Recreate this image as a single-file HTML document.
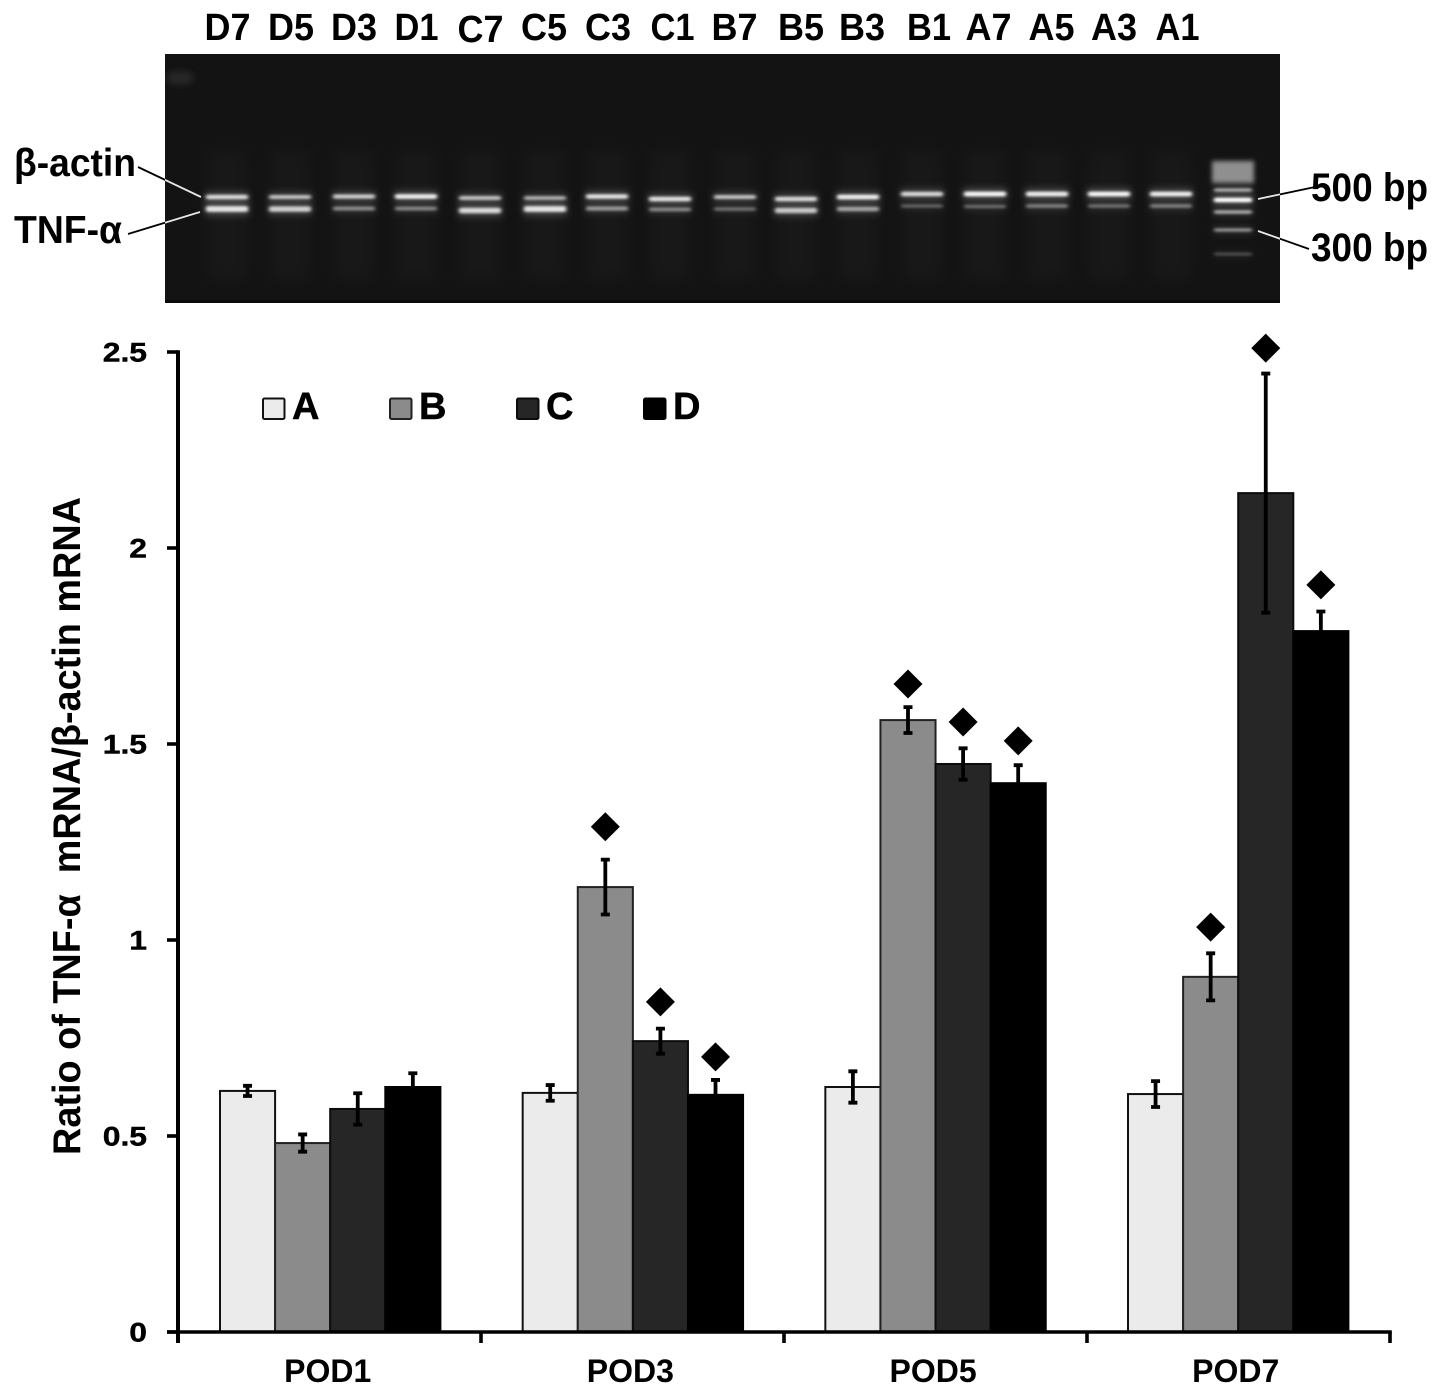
<!DOCTYPE html>
<html lang="en">
<head>
<meta charset="utf-8">
<title>TNF-α mRNA ratio chart</title>
<style>
html,body{margin:0;padding:0;background:#fff;}
svg{display:block;font-family:"Liberation Sans",sans-serif;font-weight:bold;filter:blur(0.35px);}
</style>
</head>
<body>
<svg id="figure" xmlns="http://www.w3.org/2000/svg" width="1441" height="1396" viewBox="0 0 1441 1396">
  <defs>
    <filter id="blurBand" x="-30%" y="-300%" width="160%" height="700%"><feGaussianBlur stdDeviation="1.8 1.3"/></filter>
    <filter id="blurGlow" x="-40%" y="-300%" width="180%" height="700%"><feGaussianBlur stdDeviation="3.5 4"/></filter>
    <filter id="blurBlob" x="-30%" y="-50%" width="160%" height="200%"><feGaussianBlur stdDeviation="2.5"/></filter>
    <filter id="blurSmear" x="-60%" y="-30%" width="220%" height="160%"><feGaussianBlur stdDeviation="8"/></filter>
    <clipPath id="gelClip"><rect x="165" y="54" width="1115" height="249"/></clipPath>
  </defs>
  <g id="gel" clip-path="url(#gelClip)">
    <rect x="165" y="54" width="1115" height="249" fill="#131313"/>
    <rect x="165" y="300" width="1115" height="3" fill="#0a0a0a"/>
    <ellipse cx="180" cy="78" rx="14" ry="6" fill="#2c2c2c" filter="url(#blurGlow)"/>
  </g>
  <g id="gelLabels"></g>
  <g>
    <text x="14" y="176" font-size="39" textLength="122" lengthAdjust="spacingAndGlyphs">β-actin</text>
    <text x="14" y="243" font-size="39" textLength="108" lengthAdjust="spacingAndGlyphs">TNF-α</text>
    <text x="1311" y="201" font-size="40" textLength="117" lengthAdjust="spacingAndGlyphs">500 bp</text>
    <text x="1311" y="261" font-size="40" textLength="117" lengthAdjust="spacingAndGlyphs">300 bp</text>
    <line x1="138" y1="167" x2="201" y2="197" stroke="#000" stroke-width="1.8"/>
    <line x1="128" y1="234" x2="200" y2="212" stroke="#000" stroke-width="1.8"/>
    <line x1="1258" y1="199" x2="1315" y2="187" stroke="#000" stroke-width="1.8"/>
    <line x1="1258" y1="231" x2="1309" y2="249" stroke="#000" stroke-width="1.8"/>
    <g clip-path="url(#gelClip)" stroke="#e8e8e8" stroke-width="1.8">
      <line x1="138" y1="167" x2="201" y2="197"/>
      <line x1="128" y1="234" x2="200" y2="212"/>
      <line x1="1258" y1="199" x2="1315" y2="187"/>
      <line x1="1258" y1="231" x2="1309" y2="249"/>
    </g>
  </g>
  <g id="bars"></g>
  <g id="errors"></g>
  <g id="markers"></g>
  <g id="axes"></g>
  <text transform="translate(80,1155) rotate(-90)" font-size="39" textLength="658" lengthAdjust="spacingAndGlyphs" xml:space="preserve">Ratio of TNF-α  mRNA/β-actin mRNA</text>
  <g id="legend"></g>
</svg>
<script>
// Chart data
const categories = ['POD1', 'POD3', 'POD5', 'POD7'];
const seriesNames = ['A', 'B', 'C', 'D'];
const seriesA = [0.615, 0.610, 0.625, 0.607];
const seriesB = [0.482, 1.135, 1.561, 0.906];
const seriesC = [0.569, 0.742, 1.449, 2.140];
const seriesD = [0.625, 0.605, 1.400, 1.788];
const errorA = [0.013, 0.020, 0.040, 0.033];
const errorB = [0.022, 0.070, 0.033, 0.060];
const errorC = [0.040, 0.032, 0.040, 0.305];
const errorD = [0.035, 0.038, 0.046, 0.050];
const markerB = [null, 1.289, 1.653, 1.033];
const markerC = [null, 0.842, 1.556, 2.510];
const markerD = [null, 0.702, 1.508, 1.906];
const yTickValues = [0, 0.5, 1, 1.5, 2, 2.5];
const yTickLabels = ['0', '0.5', '1', '1.5', '2', '2.5'];

// Gel data: lane name plus relative band brightness
const laneNames = ['D7','D5','D3','D1','C7','C5','C3','C1','B7','B5','B3','B1','A7','A5','A3','A1'];
const actinBrightness = [0.8,0.7,0.75,0.9,0.7,0.62,0.85,0.85,0.7,0.8,0.9,0.8,0.95,0.9,0.95,0.9];
const tnfBrightness = [0.85,0.75,0.45,0.42,0.8,0.85,0.5,0.42,0.35,0.72,0.55,0.3,0.32,0.4,0.35,0.4];

// Layout helpers
const NS = 'http://www.w3.org/2000/svg';
const plotLeft = 178, plotBottom = 1332, unitPx = 392, tickStep = 303, barGroupStart = 220, barGroupStep = 302.67, barW = 55.1;
const fills = ['#ebebeb', '#8b8b8b', '#262626', '#000000'];
const strokes = ['#111', '#222', '#0c0c0c', '#000'];
const seriesValues = [seriesA, seriesB, seriesC, seriesD];
const seriesErrors = [errorA, errorB, errorC, errorD];
const seriesMarkers = [null, markerB, markerC, markerD];
const yScale = v => plotBottom - v * unitPx;
const groupX = g => barGroupStart + g * barGroupStep;
const barX = (g, s) => groupX(g) + s * barW;
function make(tag, attrs, parent) {
  const el = document.createElementNS(NS, tag);
  for (const k in attrs) el.setAttribute(k, attrs[k]);
  parent.appendChild(el);
  return el;
}

// Bars, error bars, markers
const barsG = document.getElementById('bars');
const errG = document.getElementById('errors');
const markG = document.getElementById('markers');
categories.forEach((cat, g) => {
  seriesNames.forEach((name, s) => {
    const v = seriesValues[s][g];
    const x = barX(g, s);
    const top = yScale(v);
    const bar = make('rect', {x: x, y: top, width: barW, height: plotBottom - top, fill: fills[s], stroke: strokes[s], 'stroke-width': 2}, barsG);
    
    
    const cx = x + barW / 2;
    const e = seriesErrors[s][g];
    const hi = yScale(v + e), lo = yScale(v - e);
    const eb = make('path', {d: 'M' + cx + ' ' + hi + 'V' + lo + 'M' + (cx - 4.5) + ' ' + hi + 'H' + (cx + 4.5) + 'M' + (cx - 4.5) + ' ' + lo + 'H' + (cx + 4.5), fill: 'none', stroke: '#000', 'stroke-width': 3.8}, errG);
    
    
    const mArr = seriesMarkers[s];
    if (mArr && mArr[g] !== null) {
      const my = yScale(mArr[g]);
      const d = make('path', {d: 'M' + cx + ' ' + (my - 14.5) + 'L' + (cx + 14.5) + ' ' + my + 'L' + cx + ' ' + (my + 14.5) + 'L' + (cx - 14.5) + ' ' + my + 'Z', fill: '#000'}, markG);
      
      
    }
  });
});

// Axes
const axesG = document.getElementById('axes');
const yAxis = make('line', {x1: plotLeft, x2: plotLeft, y1: yScale(2.5) - 1.8, y2: plotBottom + 11, stroke: '#000', 'stroke-width': 4}, axesG);


const xAxis = make('line', {x1: 167, x2: plotLeft + tickStep * categories.length + 1.8, y1: plotBottom, y2: plotBottom, stroke: '#000', 'stroke-width': 3.6}, axesG);


yTickValues.forEach((v, i) => {
  const y = yScale(v);
  const t = make('line', {x1: 167, x2: plotLeft, y1: y, y2: y, stroke: '#000', 'stroke-width': 3.6}, axesG);
  
  
  const lab = make('text', {transform: 'translate(147,' + (y + 9.5) + ') scale(1.18,1)', 'text-anchor': 'end', 'font-size': 27, stroke: '#000', 'stroke-width': 0.4}, axesG);
  lab.textContent = yTickLabels[i];
  
  
});
for (let g = 0; g <= categories.length; g++) {
  const x = plotLeft + g * tickStep;
  const t = make('line', {x1: x, x2: x, y1: plotBottom, y2: plotBottom + 11, stroke: '#000', 'stroke-width': 3.6}, axesG);
  
  
}
categories.forEach((cat, g) => {
  const lab = make('text', {x: groupX(g) + barW * 2 - 2.5, y: 1382, 'text-anchor': 'middle', 'font-size': 32}, axesG);
  lab.textContent = cat;
  
  
});

// Legend
const legendG = document.getElementById('legend');
seriesNames.forEach((name, s) => {
  const x = 263 + s * 127;
  const sw = make('rect', {x: x, y: 398.5, width: 21.5, height: 20.5, rx: 1.5, fill: fills[s], stroke: strokes[s], 'stroke-width': 2}, legendG);
  
  
  const lab = make('text', {x: x + 29, y: 419, 'font-size': 38, stroke: '#000', 'stroke-width': 0.5}, legendG);
  lab.textContent = name;
  
  
});

// Gel rendering
const gelG = document.getElementById('gel');
const labelsG = document.getElementById('gelLabels');
const laneLabelX = [227.5,291,354,416.5,480.5,544,608,672.5,734.5,801,862,929,988.5,1051.5,1114,1177.5];
const laneBandX = [227,290,354,416,480,545,607,670,735,796,858,922,985,1047,1109,1171];
const actinY = [197,197,196.5,196.5,198,198,196.5,199,197,199,197,194,194,194,194,194];
const tnfY = [209,209,208.5,208.5,210.5,209,208.5,209.5,209,210.5,209,206,206.5,206,206,206];
function band(cx, cy, w, bright, tall) {
  const glow = make('rect', {x: cx - w / 2, y: cy - tall, width: w, height: tall * 2, fill: '#fff', opacity: 0.28 * bright, filter: 'url(#blurGlow)'}, gelG);
  
  
  const core = make('rect', {x: cx - w / 2 + 1, y: cy - tall / 2, width: w - 2, height: tall, rx: 2, fill: '#fff', opacity: bright, filter: 'url(#blurBand)'}, gelG);
  
  
}
laneNames.forEach((name, i) => {
  const cx = laneBandX[i];
  const smear = make('rect', {x: cx - 20, y: 150, width: 40, height: 130, fill: '#fff', opacity: 0.02}, gelG);
  smear.setAttribute('filter', 'url(#blurSmear)');
  
  
  band(cx, actinY[i], 44, actinBrightness[i], 2 + 3 * actinBrightness[i]);
  band(cx, tnfY[i], 44, tnfBrightness[i], 2 + 4.5 * tnfBrightness[i]);
  const lab = make('text', {x: laneLabelX[i], y: name === 'C7' ? 42 : 40, 'text-anchor': 'middle', 'font-size': 38, textLength: name[1] === '1' ? 44 : 46, lengthAdjust: 'spacingAndGlyphs'}, labelsG);
  lab.textContent = name;
  
  
});
// Ladder lane
const ladderX = 1233;
const ladderBlob = make('rect', {x: ladderX - 21, y: 161, width: 42, height: 22, fill: '#8f8f8f', filter: 'url(#blurBlob)'}, gelG);


const ladderY = [190, 200, 212, 230, 254];
const ladderBright = [0.6, 1, 0.6, 0.5, 0.25];
ladderY.forEach((y, i) => {
  band(ladderX, y, 40, ladderBright[i], 2 + 2.5 * ladderBright[i]);
});
</script>
</body>
</html>
